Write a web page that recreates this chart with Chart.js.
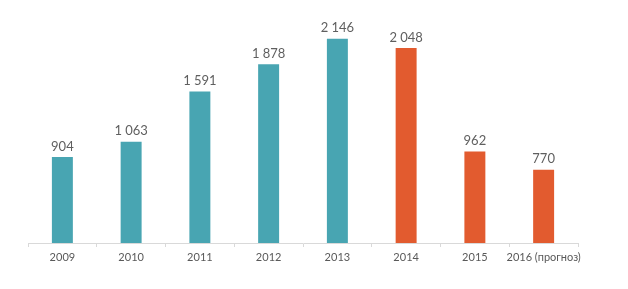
<!DOCTYPE html>
<html>
<head>
<meta charset="utf-8">
<script src="https://cdn.jsdelivr.net/npm/chart.js@4"></script>
<style>
  html, body { margin: 0; padding: 0; background: #fff; }
  #wrap { width: 628px; height: 289px; }
</style>
</head>
<body>
<div id="wrap"><canvas id="chart" width="628" height="289"></canvas></div>
<script>
const years = ['2009', '2010', '2011', '2012', '2013', '2014', '2015', '2016 (прогноз)'];
const values = [904, 1063, 1591, 1878, 2146, 2048, 962, 770];
const barColors = ['#48A5B2', '#48A5B2', '#48A5B2', '#48A5B2', '#48A5B2', '#E25B2F', '#E25B2F', '#E25B2F'];

// подписи значений над столбцами, "1 063" с пробелом
const valueLabels = {
  id: 'valueLabels',
  afterDatasetsDraw(chart) {
    const ctx = chart.ctx;
    const meta = chart.getDatasetMeta(0);
    ctx.save();
    ctx.font = '13px Lato, sans-serif';
    ctx.fillStyle = '#5F5F5F';
    ctx.textAlign = 'center';
    ctx.textBaseline = 'bottom';
    meta.data.forEach((bar, i) => {
      const txt = String(values[i]).replace(/\B(?=(\d{3})+(?!\d))/g, ' ');
      ctx.fillText(txt, bar.x, bar.y - 4);
    });
    ctx.restore();
  }
};

const ctx = document.getElementById('chart').getContext('2d');
new Chart(ctx, {
  type: 'bar',
  data: {
    labels: years,
    datasets: [{
      data: values,
      backgroundColor: barColors,
      categoryPercentage: 1,
      barPercentage: 0.305
    }]
  },
  options: {
    responsive: false,
    animation: false,
    layout: { padding: { left: 28, right: 50, top: 5, bottom: 0 } },
    plugins: {
      legend: { display: false },
      tooltip: { enabled: false }
    },
    scales: {
      x: {
        afterFit(scale) { scale.height = 46; },
        grid: {
          display: true,
          offset: true,
          drawOnChartArea: false,
          drawTicks: true,
          tickLength: 4,
          color: '#D9D9D9'
        },
        border: { color: '#D9D9D9', width: 1 },
        ticks: {
          color: '#595959',
          font: { family: 'Lato, sans-serif', size: 11 },
          padding: 4,
          autoSkip: false,
          maxRotation: 0
        }
      },
      y: {
        display: false,
        min: 0,
        max: 2500
      }
    }
  },
  plugins: [valueLabels]
});
</script>
</body>
</html>
